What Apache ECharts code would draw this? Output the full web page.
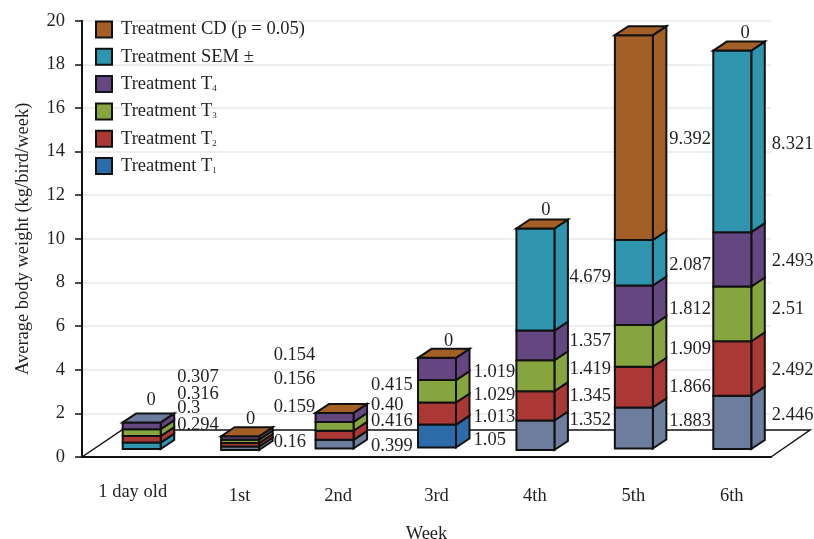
<!DOCTYPE html>
<html>
<head>
<meta charset="utf-8">
<title>Average body weight</title>
<script src="https://cdn.jsdelivr.net/npm/echarts@6/dist/echarts.min.js"></script>
<style>
  html, body { margin: 0; padding: 0; background: #fff; }
  #chart { width: 814px; height: 539px; }
</style>
</head>
<body>
<div id="chart"></div>
<script>
const weeks = ['1 day old', '1st', '2nd', '3rd', '4th', '5th', '6th'];

const t1 = [0.294, 0.16, 0.399, 1.05, 1.352, 1.883, 2.446];
const t2 = [0.3, 0.159, 0.416, 1.013, 1.345, 1.866, 2.492];
const t3 = [0.316, 0.156, 0.40, 1.029, 1.419, 1.909, 2.51];
const t4 = [0.307, 0.154, 0.415, 1.019, 1.357, 1.812, 2.493];
const sem = [null, null, null, null, 4.679, 2.087, 8.321];
const cd = [0, 0, null, 0, 0, 9.392, 0];

// heights (axis units) the value labels sit at, the original has them hand placed
const t1LabelAt = [1.47, 0.70, 0.50, 0.78, 1.67, 1.65, 1.93];
const t2LabelAt = [2.26, 2.28, 1.65, 1.82, 2.80, 3.20, 3.99];
const t3LabelAt = [2.89, 3.58, 2.37, 2.84, 4.04, 4.95, 6.78];
const t4LabelAt = [3.68, 4.65, 3.30, 3.87, 5.29, 6.78, 9.00];
const semLabelAt = [null, null, null, null, 8.26, 8.78, 14.36];
const cdLabelAt = [2.61, 1.73, null, 5.29, 11.33, 14.57, 19.45];

const BLUE = '#2a6ba8', RED = '#aa3834', GREEN = '#87a53f', PURPLE = '#644680',
  TEAL = '#2f94ae', BROWN = '#a45f26', SLATE = '#6d7d9e';
// bottom block and lid do not follow the legend in every column of the original
const t1Colors = [TEAL, SLATE, SLATE, BLUE, SLATE, SLATE, SLATE];
const capColors = [SLATE, BROWN, BROWN, BROWN, BROWN, BROWN, BROWN];

const INK = '#231f20';
const FONT = '"Liberation Serif", serif';
const FONT_SIZE = 18.5;
const BAR_W = 38, DEPTH_X = 13.5, DEPTH_Y = 9;
const barShift = [0, 0, -4, 0, 0, 0, 0];
const barLift = [8, 7, 8.5, 9.5, 7, 8.5, 8];
const labelShift = [46, 44, 43, 47, 44.5, 46, 50];
const zeroShift = [20, 21, 0, 22, 21, 0, 23.4];

const outline = { stroke: '#111', lineWidth: 2, lineJoin: 'miter' };

function labelText(v) {
  return v === 0.4 ? '0.40' : String(v);
}

function stackBase(i, upTo) {
  let base = 0;
  layers.slice(0, upTo).forEach(l => { base += l.values[i] || 0; });
  return base;
}

function box(api, color, capColor) {
  const cat = api.value(0);
  const cx = api.coord([cat, 0])[0];
  const left = cx - 8.5 + barShift[cat];
  const right = left + BAR_W;
  const lift = barLift[cat];
  const yLow = api.coord([cat, api.value(1)])[1] - lift;
  const yHigh = api.coord([cat, api.value(1) + api.value(2)])[1] - lift;
  const kids = [];
  if (yLow - yHigh > 0) {
    kids.push({
      type: 'polygon',
      shape: { points: [[right, yHigh], [right + DEPTH_X, yHigh - DEPTH_Y], [right + DEPTH_X, yLow - DEPTH_Y], [right, yLow]] },
      style: { fill: color, ...outline }
    });
    kids.push({
      type: 'rect',
      shape: { x: left, y: yHigh, width: BAR_W, height: yLow - yHigh },
      style: { fill: color, ...outline }
    });
  }
  if (capColor) {
    kids.push({
      type: 'polygon',
      shape: { points: [[left, yHigh], [left + DEPTH_X, yHigh - DEPTH_Y], [right + DEPTH_X, yHigh - DEPTH_Y], [right, yHigh]] },
      style: { fill: capColor, ...outline }
    });
  }
  return kids;
}

function valueLabel(api) {
  const cat = api.value(0);
  const at = api.value(3);
  const val = api.value(2);
  if (isNaN(at)) return [];
  const cx = api.coord([cat, 0])[0];
  const y = api.coord([cat, at])[1];
  const isZero = val === 0;
  return [{
    type: 'text',
    z2: 50,
    style: {
      x: isZero ? cx + zeroShift[cat] : cx + labelShift[cat],
      y: y,
      text: labelText(val),
      fill: INK,
      font: FONT_SIZE + 'px ' + FONT,
      align: isZero ? 'center' : 'left',
      verticalAlign: 'middle'
    }
  }];
}

const layers = [
  { name: 'Treatment T1', color: BLUE, values: t1, labelAt: t1LabelAt, colors: t1Colors },
  { name: 'Treatment T2', color: RED, values: t2, labelAt: t2LabelAt },
  { name: 'Treatment T3', color: GREEN, values: t3, labelAt: t3LabelAt },
  { name: 'Treatment T4', color: PURPLE, values: t4, labelAt: t4LabelAt },
  { name: 'Treatment SEM \u00b1', color: TEAL, values: sem, labelAt: semLabelAt },
  { name: 'Treatment CD (p = 0.05)', color: BROWN, values: cd, labelAt: cdLabelAt, caps: capColors }
];

const floorSeries = {
  type: 'custom',
  name: 'floor',
  silent: true,
  z: 1,
  data: [[0]],
  renderItem: (params) => {
    const r = params.coordSys;
    const yFront = r.y + r.height;
    const yBack = yFront - 27;
    const xLeft = r.x, xRight = r.x + r.width;
    return {
      type: 'polyline',
      shape: { points: [[xLeft, yFront], [xLeft + 40, yBack], [xRight + 39, yBack], [xRight, yFront]] },
      style: { fill: null, stroke: '#111', lineWidth: 1.5 }
    };
  }
};

const barSeries = layers.map((layer, n) => ({
  type: 'custom',
  name: layer.name,
  z: 3 + n,
  itemStyle: { color: layer.color },
  encode: { x: 0, y: 1 },
  data: weeks.map((w, i) => [
    i,
    stackBase(i, n),
    layer.values[i] === null ? 0 : layer.values[i],
    layer.labelAt[i] === null ? '-' : layer.labelAt[i]
  ]),
  renderItem: (params, api) => {
    const cat = api.value(0);
    const color = layer.colors ? layer.colors[cat] : layer.color;
    const cap = layer.caps ? layer.caps[cat] : null;
    return {
      type: 'group',
      children: box(api, color, cap).concat(valueLabel(api))
    };
  }
}));

const legendRich = {
  sub: { fontSize: 9, fontFamily: FONT, color: INK, padding: [9, 0, 0, 0] }
};

const chart = echarts.init(document.getElementById('chart'), null, { renderer: 'canvas' });
chart.setOption({
  animation: false,
  backgroundColor: '#fff',
  legend: {
    orient: 'vertical',
    left: 90,
    top: 15,
    icon: 'rect',
    itemWidth: 16,
    itemHeight: 16,
    itemGap: 8.3,
    data: layers.map(l => l.name).reverse(),
    itemStyle: { borderColor: '#111', borderWidth: 2 },
    textStyle: { fontFamily: FONT, fontSize: FONT_SIZE, color: INK, padding: [0, 0, 0, 4], rich: legendRich },
    formatter: (name) => name.replace(/^(Treatment T)(\d)$/, '$1{sub|$2}')
  },
  grid: { left: 82, right: 43, top: 20.7, bottom: 82, outerBoundsMode: 'none' },
  xAxis: {
    type: 'category',
    data: weeks,
    boundaryGap: true,
    name: 'Week',
    nameLocation: 'middle',
    nameGap: 68,
    nameTextStyle: { fontFamily: FONT, fontSize: FONT_SIZE, color: INK },
    axisLine: { lineStyle: { color: '#111', width: 2 } },
    axisTick: { length: 8, lineStyle: { color: '#111', width: 1.5 } },
    axisLabel: {
      margin: 26,
      interval: 0,
      fontFamily: FONT,
      fontSize: FONT_SIZE,
      color: INK,
      // the first label sits a little left of and above the others in the original
      formatter: (v, i) => (i === 0 ? '{first|' : '{rest|') + v + '}',
      rich: {
        first: { fontFamily: FONT, fontSize: FONT_SIZE, color: INK, padding: [0, 0, 0, 3] },
        rest: { fontFamily: FONT, fontSize: FONT_SIZE, color: INK, padding: [4, 0, 0, 20] }
      }
    },
    splitLine: { show: false }
  },
  yAxis: {
    type: 'value',
    min: 0,
    max: 20,
    interval: 2,
    name: 'Average body weight (kg/bird/week)',
    nameLocation: 'middle',
    nameGap: 49,
    nameTextStyle: { fontFamily: FONT, fontSize: FONT_SIZE, color: INK },
    axisLine: { show: true, lineStyle: { color: '#111', width: 2 } },
    axisTick: { show: true, length: 7, lineStyle: { color: '#111', width: 1.5 } },
    axisLabel: { margin: 17, fontFamily: FONT, fontSize: FONT_SIZE, color: INK },
    splitLine: { show: true, lineStyle: { color: '#e8e8e8', width: 1.5 } }
  },
  series: [floorSeries].concat(barSeries)
});
</script>
</body>
</html>
